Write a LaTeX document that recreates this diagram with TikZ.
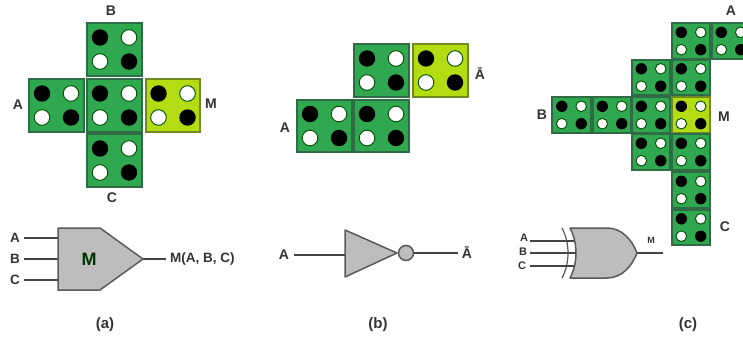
\documentclass[tikz,border=0pt]{standalone}
\usepackage{fontspec}
\setmainfont{Liberation Sans}
\definecolor{cellgreen}{HTML}{2FA84F}
\definecolor{cellyellow}{HTML}{B4DC12}
\definecolor{celledge}{HTML}{2F6B45}
\definecolor{yedge}{HTML}{6F8A20}
\definecolor{gategray}{HTML}{BDBDBD}
\definecolor{gateedge}{HTML}{5A5A5A}
\definecolor{wire}{HTML}{444444}
\definecolor{labelc}{HTML}{333333}
\tikzset{
  x=1pt,y=-1pt,
  green cell/.style={fill=cellgreen,draw=celledge,line width=1.2pt},
  yellow cell/.style={fill=cellyellow,draw=yedge,line width=1.2pt},
  dark dot/.style={fill=black,draw=none},
  light dot/.style={fill=white,draw=black!70!green,line width=0.9pt},
  gate/.style={fill=gategray,draw=gateedge,line width=1.5pt,line join=round},
  wire line/.style={draw=wire,line width=1.2pt},
  heavy wire/.style={draw=wire,line width=1.8pt},
  lab/.style={font=\bfseries\fontsize{14}{16}\selectfont,text=labelc,inner sep=0pt},
  small lab/.style={font=\bfseries\fontsize{13.5}{15}\selectfont,text=labelc,inner sep=0pt},
  tiny lab/.style={font=\bfseries\fontsize{11}{12}\selectfont,text=labelc,inner sep=0pt},
  mini lab/.style={font=\bfseries\fontsize{9}{10}\selectfont,text=labelc,inner sep=0pt},
  caption lab/.style={font=\bfseries\fontsize{15}{17}\selectfont,text=labelc,inner sep=0pt},
}
% cell: style, left, top, right, bottom, dx, dy, radius
\newcommand{\blockcell}[8]{%
  \path[#1] (#2,#3) rectangle (#4,#5);
  \pgfmathsetmacro{\cx}{(#2+#4)/2}\pgfmathsetmacro{\cy}{(#3+#5)/2}
  \path[dark dot]  (\cx-#6,\cy-#7) circle[radius=#8];
  \path[light dot] (\cx+#6,\cy-#7) circle[radius=#8-0.4];
  \path[light dot] (\cx-#6,\cy+#7) circle[radius=#8-0.4];
  \path[dark dot]  (\cx+#6,\cy+#7) circle[radius=#8];
}
\newcommand{\bigcell}[5]{\blockcell{#1}{#2}{#3}{#4}{#5}{14.5}{12}{8.2}}
\newcommand{\smallcell}[5]{\blockcell{#1}{#2}{#3}{#4}{#5}{9.7}{8.7}{5.7}}
\begin{document}
\begin{tikzpicture}
\useasboundingbox (0,0) rectangle (743,339);
% (a) block
\bigcell{green cell}{87}{23}{142}{76}
\bigcell{green cell}{29}{79}{84}{132}
\bigcell{green cell}{87}{79}{142}{132}
\bigcell{yellow cell}{146}{79}{200}{132}
\bigcell{green cell}{87}{134}{142}{187}
\node[lab] (tb) at (111,11) {B};
\node[lab] (ta) at (18,105) {A};
\node[lab] (tm) at (211,104) {M};
\node[lab] (tc) at (112,198) {C};
% (a) gate
\node[small lab] (ga) at (15,238) {A};
\node[small lab] (gb) at (15,259) {B};
\node[small lab] (gc) at (15,280) {C};
\node[small lab,anchor=west] (gout) at (170,259) {M(A, B, C)};
\coordinate (pa) at (58,238);
\coordinate (pb) at (58,259);
\coordinate (pc) at (58,280);
\coordinate (tipa) at (143,259);
\draw[wire line] (ga.east) ++(4,0) -- (pa);
\draw[wire line] (gb.east) ++(4,0) -- (pb);
\draw[wire line] (gc.east) ++(4,0) -- (pc);
\draw[wire line] (tipa) -- ++(23,0);
\path[gate] (58,228) -- (100,228) -- (tipa) -- (100,290) -- (58,290) -- cycle;
\node[font=\bfseries\fontsize{18}{20}\selectfont,text=black!80!green,inner sep=0pt] (gm) at (89,259) {M};
\node[caption lab] (capa) at (105,325) {(a)};
% (b) block
\bigcell{green cell}{354}{44}{409}{97}
\bigcell{yellow cell}{413}{44}{468}{97}
\bigcell{green cell}{297}{100}{352}{152}
\bigcell{green cell}{354}{100}{409}{152}
\node[lab] (ba) at (285,128) {A};
\node[lab,anchor=base] (bn) at (480,80) {Ā};
% (b) gate
\node[lab] (gia) at (284,255) {A};
\node[lab,anchor=base] (gin) at (467,258) {Ā};
\path[gate] (345,230) -- (397,253) -- (345,277) -- cycle;
\node[circle,fill=gategray,draw=gateedge,line width=1.5pt,minimum size=15pt,inner sep=0pt] (bub) at (406,253) {};
\coordinate (pi) at (345,255);
\coordinate (po) at (458,253);
\draw[wire line] (gia.east) ++(5,0) -- (pi);
\draw[wire line] (bub.east) -- (po);
\node[caption lab] (capb) at (378,325) {(b)};
% (c) block
\smallcell{green cell}{672}{23}{710}{59}
\smallcell{green cell}{712}{23}{750}{59}
\smallcell{green cell}{632}{60}{670}{95}
\smallcell{green cell}{672}{60}{710}{95}
\smallcell{green cell}{552}{97}{591}{133}
\smallcell{green cell}{593}{97}{631}{133}
\smallcell{green cell}{632}{97}{670}{133}
\smallcell{yellow cell}{672}{97}{710}{133}
\smallcell{green cell}{632}{134}{670}{170}
\smallcell{green cell}{672}{134}{710}{170}
\smallcell{green cell}{672}{172}{710}{208}
\smallcell{green cell}{672}{210}{710}{245}
\node[lab] (ca) at (731,11) {A};
\node[lab] (cb) at (542,115) {B};
\node[lab] (cm) at (724,117) {M};
\node[lab] (cc) at (725,227) {C};
% (c) gate
\node[tiny lab] (ha) at (524,238) {A};
\node[tiny lab] (hb) at (523,252) {B};
\node[tiny lab] (hc) at (522,266) {C};
\node[mini lab] (hm) at (651,240) {M};
\coordinate (qa) at (574,241);
\coordinate (qb) at (576,253);
\coordinate (qc) at (574,266);
\coordinate (tipc) at (637,253);
\draw[heavy wire] (tipc) -- ++(26,0);
\draw[gateedge,line width=1.2pt] (562,228) .. controls (570,243) and (570,263) .. (562,278);
\path[gate] (570,228) -- (607,228) .. controls (622,228) and (632,240) .. (tipc)
  .. controls (632,266) and (622,278) .. (607,278) -- (570,278)
  .. controls (578,263) and (578,243) .. cycle;
\draw[heavy wire] (ha.east) ++(2,3) -- (qa);
\draw[heavy wire] (hb.east) ++(3,1) -- (qb);
\draw[heavy wire] (hc.east) ++(4,0) -- (qc);
\node[caption lab] (capc) at (688,325) {(c)};
\end{tikzpicture}
\end{document}
